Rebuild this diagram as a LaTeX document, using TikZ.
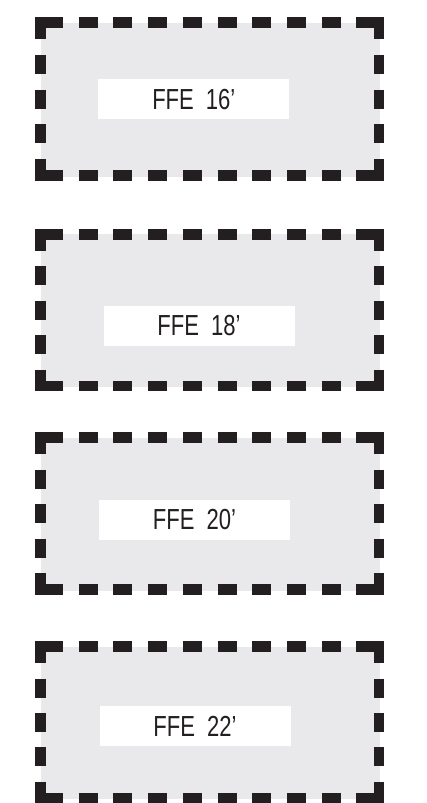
\documentclass[tikz,border=0pt]{standalone}
\usepackage{fontspec}
\newfontfamily\cadfont{Liberation Sans}[FakeStretch=0.76]
\definecolor{boxgray}{RGB}{233,233,235}
\definecolor{inkblack}{RGB}{35,31,32}
\tikzset{
  dashline/.style={draw=inkblack, line width=10.5pt, line cap=butt, line join=miter},
  labelbox/.style={fill=white, draw=none, minimum width=191pt, minimum height=40pt,
    inner sep=0pt, font=\cadfont\fontsize{29}{29}\selectfont, text=inkblack}
}
\begin{document}
\begin{tikzpicture}[x=1pt,y=-1pt]
\useasboundingbox (0,0) rectangle (426,803);
\def\xl{40.5}
\def\xr{379}
\foreach \T/\B/\lx/\ly/\txt/\n in {22.7/175.5/193.8/99.3/16/a, 234.3/386/199/326/18/b, 437.5/589.5/194.5/519.5/20/c, 646.7/798/195/726/22/d}{
  \fill[boxgray] (\xl,\T) rectangle (\xr+1,\B+1);
  % corners
  \draw[dashline] (\xl+22.5,\T) -- (\xl,\T) -- (\xl,\T+16.5);
  \draw[dashline] (\xr-22.5,\T) -- (\xr,\T) -- (\xr,\T+16.5);
  \draw[dashline] (\xl+22.5,\B) -- (\xl,\B) -- (\xl,\B-16.5);
  \draw[dashline] (\xr-22.5,\B) -- (\xr,\B) -- (\xr,\B-16.5);
  % horizontal inner dashes
  \draw[dashline, dash pattern=on 19pt off 15.72pt, dash phase=19pt] (\xl+22.5,\T) -- (\xr-22.5,\T);
  \draw[dashline, dash pattern=on 19pt off 15.72pt, dash phase=19pt] (\xl+22.5,\B) -- (\xr-22.5,\B);
  % vertical inner dashes
  \pgfmathsetmacro\vg{(\B-\T-33-57)/4}
  \draw[dashline, dash pattern=on 19pt off \vg pt, dash phase=19pt] (\xl,\T+16.5) -- (\xl,\B-16.5);
  \draw[dashline, dash pattern=on 19pt off \vg pt, dash phase=19pt] (\xr,\T+16.5) -- (\xr,\B-16.5);
  % label
  \node[labelbox] (lab\n) at (\lx,\ly) {FFE\hspace{12pt}\txt’};
}
\end{tikzpicture}
\end{document}
